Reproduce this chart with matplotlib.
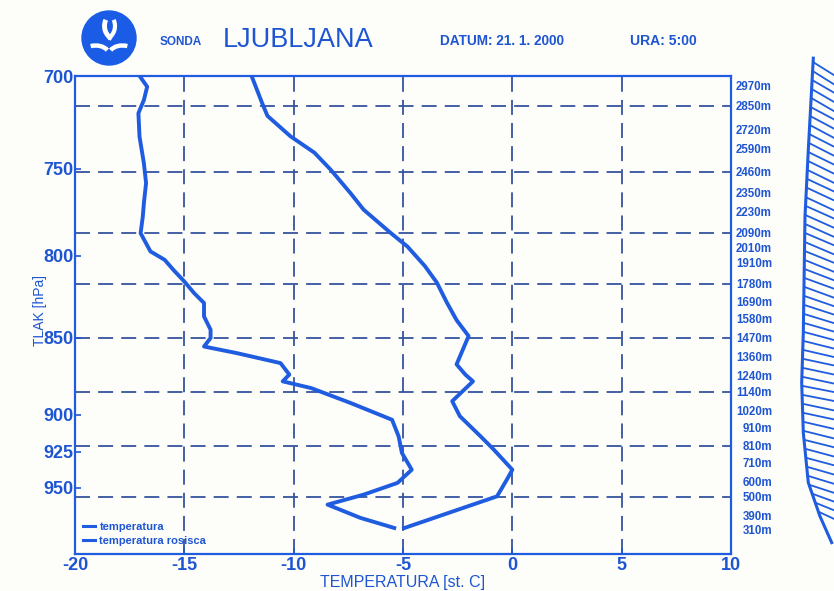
import numpy as np
import matplotlib
matplotlib.use('Agg')
import matplotlib.pyplot as plt
from matplotlib import font_manager
from matplotlib.patches import Circle, Arc
from matplotlib.ticker import FixedLocator, FixedFormatter, NullLocator

# temperature profile (pressure hPa, deg C)
temp_p = [700.7, 714, 721, 732, 741, 750.5, 763.6, 773, 786.6, 794.4, 806, 816, 824, 828,
          839, 849, 867, 873.6, 878, 891, 901, 914.6, 923.6, 937.5, 944.4, 956.2, 979]
temp_t = [-11.9, -11.45, -11.2, -10.15, -9.05, -8.3, -7.4, -6.8, -5.55, -4.8, -4.0, -3.45, -3.15, -3.0,
          -2.55, -2.0, -2.55, -2.15, -1.8, -2.75, -2.4, -1.45, -0.85, 0.0, -0.25, -0.7, -4.95]

# dew point profile
dew_p = [700.7, 705.6, 712.6, 719.6, 732.2, 746.8, 757.9, 769.3, 777, 786.6, 797.3, 802.3, 808.3,
         815.3, 822.4, 828.4, 836.7, 845, 850.2, 855.6, 859.8, 866.2, 873.6, 878, 882.4, 892.2,
         903.4, 914.6, 925.9, 937.5, 946.7, 955, 962.1, 971.6, 978.9]
dew_t = [-17.0, -16.7, -16.85, -17.1, -17.05, -16.85, -16.75, -16.85, -16.9, -17.0, -16.55, -15.9, -15.5,
         -15.0, -14.55, -14.1, -14.1, -13.8, -13.8, -14.1, -12.6, -10.6, -10.2, -10.5, -9.2, -7.4,
         -5.5, -5.2, -5.05, -4.6, -5.25, -6.8, -8.45, -6.95, -5.4]

# height labels on the right axis and the pressure they sit at
height_lbl = ['2970m', '2850m', '2720m', '2590m', '2460m', '2350m', '2230m', '2090m', '2010m',
              '1910m', '1780m', '1690m', '1580m', '1470m', '1360m', '1240m', '1140m', '1020m',
              '910m', '810m', '710m', '600m', '500m', '390m', '310m']
height_p = [704.7, 715.6, 728.6, 738.9, 751.6, 763.4, 774.3, 786.4, 795.2, 804.1, 816.7, 827.7,
            838.2, 850.1, 862.1, 874.3, 884.7, 897.3, 908.7, 920.9, 932.6, 945.8, 956.4, 969.9, 980.1]

p_ticks = [700, 750, 800, 850, 900, 925, 950]
t_ticks = [-20, -15, -10, -5, 0, 5, 10]

# wind profile strip at the right edge
stalk_p = [690.8, 739.5, 777, 846.9, 878.9, 912.1, 946.5, 970.5, 989.6]
stalk_x = [13.3, 8.3, 5.0, 3.3, 1.7, 3.3, 8.3, 20.0, 31.7]
barb_p = [692.8, 697.4, 702.1, 706.8, 711.5, 716.3, 721.1, 725.9, 730.8, 735.6, 740.6, 745.5,
          750.5, 755.5, 760.4, 765.9, 770.8, 776.0, 781.2, 786.4, 791.7, 797.0, 802.3, 807.7,
          813.1, 818.5, 824.0, 829.5, 835.1, 840.7, 846.3, 852.0, 857.7, 863.4, 869.2, 875.0,
          880.9, 886.8, 892.7, 898.7, 904.7, 910.8, 916.9, 923.0, 929.2, 935.4, 941.7, 948.0,
          954.3, 960.7, 967.1]
barb_angle = [32, 32, 30, 30, 30, 28, 28, 28, 27, 27, 26, 26, 26, 25, 25, 25, 24, 24, 24, 23,
              23, 22, 22, 21, 20, 20, 19, 18, 17, 16, 15, 14, 13, 12, 12, 12, 11, 11, 12, 12,
              13, 14, 14, 15, 15, 16, 17, 18, 20, 22, 25]

BLUE = '#1f5ce0'
TXT = '#1e55d2'
GRID = '#35549e'

names = {f.name for f in font_manager.fontManager.ttflist}
fam = [f for f in ['Liberation Sans Narrow', 'Liberation Sans', 'DejaVu Sans'] if f in names]
plt.rcParams['font.family'] = fam
plt.rcParams['axes.unicode_minus'] = False

fig = plt.figure(figsize=(8.34, 5.91), dpi=100, facecolor='#fdfdf9')
ax = fig.add_axes([75 / 834, 37 / 591, 656 / 834, 478 / 591])
ax.set_facecolor('none')

ax.plot(temp_t, temp_p, color=BLUE, lw=2.8, label='temperatura')
ax.plot(dew_t, dew_p, color=BLUE, lw=2.8, label='temperatura rosisca')

ax.set_yscale('log')
ax.set_ylim(998, 700)
ax.set_xlim(-20, 10)
ax.yaxis.set_major_locator(FixedLocator(p_ticks))
ax.yaxis.set_major_formatter(FixedFormatter([str(p) for p in p_ticks]))
ax.yaxis.set_minor_locator(NullLocator())
ax.set_xticks(t_ticks)
ax.tick_params(axis='both', colors=TXT, labelsize=13, direction='in', length=4, width=1.2)
ax.tick_params(axis='x', pad=2)
ax.tick_params(axis='y', pad=1)
for lbl in ax.get_xticklabels() + ax.get_yticklabels():
    lbl.set_fontweight('bold')
for s in ax.spines.values():
    s.set_color(BLUE)
    s.set_linewidth(1.6)

# dashed grid: vertical at the temperature ticks, horizontal at every third height level
for t in t_ticks[1:-1]:
    ax.axvline(t, color=GRID, lw=1.3, ls=(0, (8.3, 4.5)), zorder=1)
for p in height_p[1::3]:
    ax.axhline(p, color=GRID, lw=1.3, ls=(0, (8.3, 4.5)), zorder=1)

ax.set_xlabel('TEMPERATURA [st. C]', color=TXT, fontsize=11.5, labelpad=1)
ax.set_ylabel('TLAK [hPa]', color=TXT, fontsize=10)
ax.yaxis.set_label_coords(-0.043, 0.51)

# height labels, right aligned a little way off the axis
ax2 = ax.twinx()
ax2.set_yscale('log')
ax2.set_ylim(998, 700)
ax2.yaxis.set_major_locator(FixedLocator(height_p))
ax2.yaxis.set_major_formatter(FixedFormatter(height_lbl))
ax2.yaxis.set_minor_locator(NullLocator())
ax2.tick_params(axis='y', colors=TXT, labelsize=8.3, length=0, pad=29.5)
for lbl in ax2.get_yticklabels():
    lbl.set_fontweight('bold')
    lbl.set_horizontalalignment('right')
for s in ax2.spines.values():
    s.set_visible(False)

leg = ax.legend(loc='lower left', frameon=False, fontsize=8, handlelength=1.1,
                handletextpad=0.4, labelspacing=0.35, borderaxespad=0.3)
for line in leg.get_lines():
    line.set_linewidth(2.2)
for txt in leg.get_texts():
    txt.set_color(TXT)
    txt.set_fontweight('bold')

# wind strip
axw = fig.add_axes([800 / 834, 37 / 591, 40 / 834, 478 / 591])
axw.set_yscale('log')
axw.set_ylim(998, 700)
axw.set_xlim(0, 40)
axw.axis('off')
axw.plot(stalk_x, stalk_p, color=BLUE, lw=2.2, clip_on=False)
bx = np.interp(barb_p, stalk_p, stalk_x)
for x0, p0, a in zip(bx, barb_p, barb_angle):
    r = np.radians(a)
    axw.annotate('', xy=(x0, p0), xytext=(40 * np.cos(r), -40 * np.sin(r)),
                 textcoords='offset points', annotation_clip=False,
                 arrowprops=dict(arrowstyle='-', color=BLUE, lw=1.3, shrinkA=0, shrinkB=0))

# header logo
axl = fig.add_axes([79 / 834, (591 - 68) / 591, 60 / 834, 60 / 591])
axl.set_xlim(-1, 1)
axl.set_ylim(-1, 1)
axl.set_aspect('equal')
axl.axis('off')
axl.add_patch(Circle((0, 0), 0.9, color='#1a5ce6'))
axl.add_patch(Arc((0.25, 0.4), 0.8, 0.9, theta1=150, theta2=250, color='white', lw=3.5))
axl.add_patch(Arc((-0.2, 0.4), 0.8, 0.9, theta1=-70, theta2=30, color='white', lw=3.0))
axl.add_patch(Arc((-0.45, -0.55), 0.9, 0.6, theta1=20, theta2=120, color='white', lw=3.2))
axl.add_patch(Arc((0.45, -0.55), 0.9, 0.6, theta1=60, theta2=160, color='white', lw=3.2))

fig.text(181 / 834, 1 - 42 / 591, 'SONDA', color=TXT, fontsize=8.5, fontweight='bold', ha='center', va='center')
fig.text(298 / 834, 1 - 40 / 591, 'LJUBLJANA', color=TXT, fontsize=19.5, ha='center', va='center')
fig.text(502 / 834, 1 - 41 / 591, 'DATUM: 21. 1. 2000', color=TXT, fontsize=9.8, fontweight='bold', ha='center', va='center')
fig.text(663 / 834, 1 - 41 / 591, 'URA: 5:00', color=TXT, fontsize=10, fontweight='bold', ha='center', va='center')

fig.savefig('out.png', dpi=100, facecolor=fig.get_facecolor())
